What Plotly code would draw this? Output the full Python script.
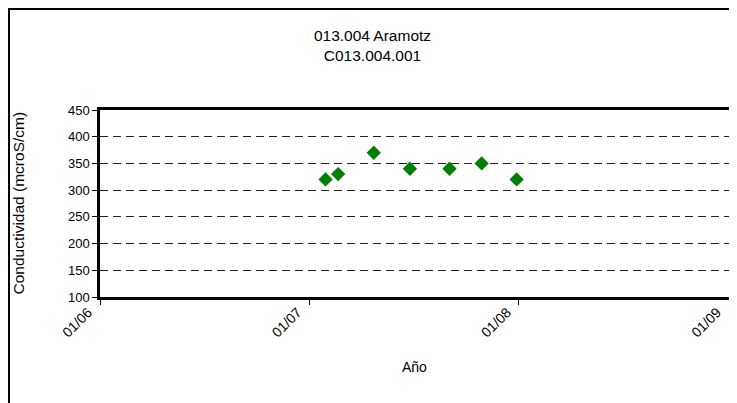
import plotly.graph_objects as go

# sample dates and conductivity readings
fechas = ["2007-01-29", "2007-02-20", "2007-04-23", "2007-06-25",
          "2007-09-02", "2007-10-28", "2007-12-28"]
conductividad = [320, 330, 370, 340, 340, 350, 320]

x_ticks = ["2006-01-01", "2007-01-01", "2008-01-01", "2009-01-01"]
x_labels = ["01/06", "01/07", "01/08", "01/09"]
y_ticks = [100, 150, 200, 250, 300, 350, 400, 450]

# page body has an 8px margin, so the figure is sized/offset to fit the window
W, H = 729, 395
L, R, T, B = 92, 8, 102, 106
pw, ph = W - L - R, H - T - B

fig = go.Figure()
fig.add_scatter(x=fechas, y=conductividad, mode="markers",
                marker=dict(symbol="diamond", size=11, color="#008000"),
                showlegend=False)

fig.update_layout(
    width=W, height=H,
    margin=dict(l=L, r=R, t=T, b=B),
    paper_bgcolor="white", plot_bgcolor="white",
    font=dict(family="Liberation Sans, Arial, sans-serif", size=13, color="black"),
    title=dict(text="013.004 Aramotz<br>C013.004.001", x=0.5, xanchor="center",
               y=1 - 33 / H, yanchor="middle", font=dict(size=15.5)),
)

fig.update_xaxes(
    type="date", range=["2006-01-01", "2009-01-01"],
    tickvals=x_ticks, ticktext=x_labels, tickangle=-45,
    tickfont=dict(size=14), ticklabelshift=-12, ticklabelstandoff=-6,
    ticks="outside", ticklen=5, tickwidth=1, tickcolor="black",
    showline=True, linewidth=2.5, linecolor="black", mirror=True,
    showgrid=False, zeroline=False, automargin=False,
)
fig.update_yaxes(
    range=[100, 450], tickvals=y_ticks, tickfont=dict(size=13),
    ticks="outside", ticklen=5, tickwidth=1, tickcolor="black",
    showline=True, linewidth=2.5, linecolor="black", mirror=True,
    showgrid=True, gridcolor="#222222", griddash="8px,5px", gridwidth=1,
    zeroline=False, automargin=False,
)

# axis titles
fig.add_annotation(text="Conductividad (mcroS/cm)", xref="paper", yref="paper",
                   x=(10 - L) / pw, y=0.5, textangle=-90, showarrow=False,
                   xanchor="center", yanchor="middle", font=dict(size=15.5))
fig.add_annotation(text="Año", xref="paper", yref="paper",
                   x=0.5, y=-(359 - (T + ph)) / ph, showarrow=False,
                   xanchor="center", yanchor="middle", font=dict(size=14))

# outer chart border
fig.add_shape(type="rect", xref="paper", yref="paper",
              x0=(1 - L) / pw, y0=-1.0, x1=1.2, y1=1 + (T - 1) / ph,
              line=dict(color="black", width=2), layer="below")

fig.write_html("out.html")
